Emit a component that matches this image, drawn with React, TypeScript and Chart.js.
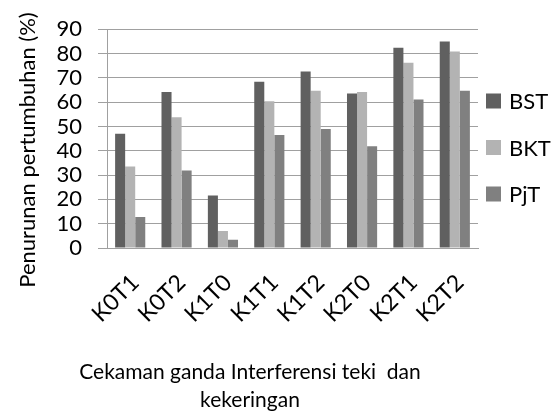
import React, { useEffect, useRef } from 'react';
import { Chart, registerables } from 'chart.js';

Chart.register(...registerables);

const categories = ['K0T1', 'K0T2', 'K1T0', 'K1T1', 'K1T2', 'K2T0', 'K2T1', 'K2T2'];
const bstValues = [47.0, 64.2, 21.6, 68.4, 72.6, 63.6, 82.4, 84.9];
const bktValues = [33.5, 53.8, 7.0, 60.4, 64.7, 64.2, 76.2, 80.8];
const pjtValues = [12.7, 31.9, 3.4, 46.5, 49.0, 41.9, 61.1, 64.7];
const seriesNames = ['BST', 'BKT', 'PjT'];
const seriesColors = ['#606060', '#b3b3b3', '#808080'];
const yMin = 0;
const yMax = 90;
const yStep = 10;
const yTitle = 'Penurunan pertumbuhan (%)';
const xTitleLines = ['Cekaman ganda Interferensi teki  dan', 'kekeringan'];

const FONT = 'Lato';
const GRID = '#a0a0a0';

const decorPlugin = {
  id: 'decor',
  afterDraw(chart: any) {
    const ctx = chart.ctx as CanvasRenderingContext2D;
    ctx.save();
    ctx.fillStyle = '#000';
    // y title
    ctx.font = `22px ${FONT}`;
    ctx.textAlign = 'center';
    ctx.textBaseline = 'middle';
    ctx.save();
    ctx.translate(28, 150);
    ctx.rotate(-Math.PI / 2);
    ctx.fillText(yTitle, 0, 0);
    ctx.restore();
    // x title
    ctx.font = `21px ${FONT}`;
    xTitleLines.forEach((line, i) => {
      ctx.fillText(line, 250, 372 + i * 28);
    });
    // legend
    ctx.font = `22px ${FONT}`;
    ctx.textAlign = 'left';
    chart.data.datasets.forEach((ds: any, i: number) => {
      const cy = 101 + i * 46.5;
      ctx.fillStyle = ds.backgroundColor;
      ctx.fillRect(486, cy - 7.5, 15, 15);
      ctx.fillStyle = '#000';
      ctx.fillText(ds.label, 509, cy + 1);
    });
    ctx.restore();
  },
};

export default function App() {
  const ref = useRef<HTMLCanvasElement | null>(null);
  useEffect(() => {
    if (!ref.current) return;
    Chart.defaults.font.family = FONT;
    const values = [bstValues, bktValues, pjtValues];
    const chart = new Chart(ref.current, {
      type: 'bar',
      data: {
        labels: categories,
        datasets: seriesNames.map((name, i) => ({
          label: name,
          data: values[i],
          backgroundColor: seriesColors[i],
          borderWidth: 0,
          barPercentage: 1,
          categoryPercentage: 0.65,
        })),
      },
      options: {
        responsive: false,
        animation: false,
        devicePixelRatio: 1,
        layout: { padding: { top: 26, right: 77, left: 0, bottom: 0 } },
        plugins: {
          legend: { display: false },
          tooltip: { enabled: false },
          title: { display: false },
        },
        scales: {
          x: {
            grid: { display: false, drawTicks: false },
            border: { display: true, color: GRID, width: 1 },
            ticks: {
              color: '#000',
              font: { size: 23, family: FONT },
              minRotation: 45,
              maxRotation: 45,
              autoSkip: false,
              padding: 21,
              labelOffset: 5,
            },
            afterFit: (s: any) => {
              s.height = 166;
            },
          },
          y: {
            min: yMin,
            max: yMax,
            grid: { color: GRID, tickLength: 9, lineWidth: 1 },
            border: { display: true, color: GRID, width: 1 },
            ticks: {
              stepSize: yStep,
              autoSkip: false,
              color: '#000',
              font: { size: 22, family: FONT },
              padding: 16,
            },
            afterFit: (s: any) => {
              s.width = 107;
            },
          },
        },
      },
      plugins: [decorPlugin],
    });
    return () => chart.destroy();
  }, []);
  return (
    <div style={{ position: 'fixed', left: 0, top: 0, width: 555, height: 414, background: '#fff' }}>
      <canvas ref={ref} width={555} height={414} />
    </div>
  );
}
